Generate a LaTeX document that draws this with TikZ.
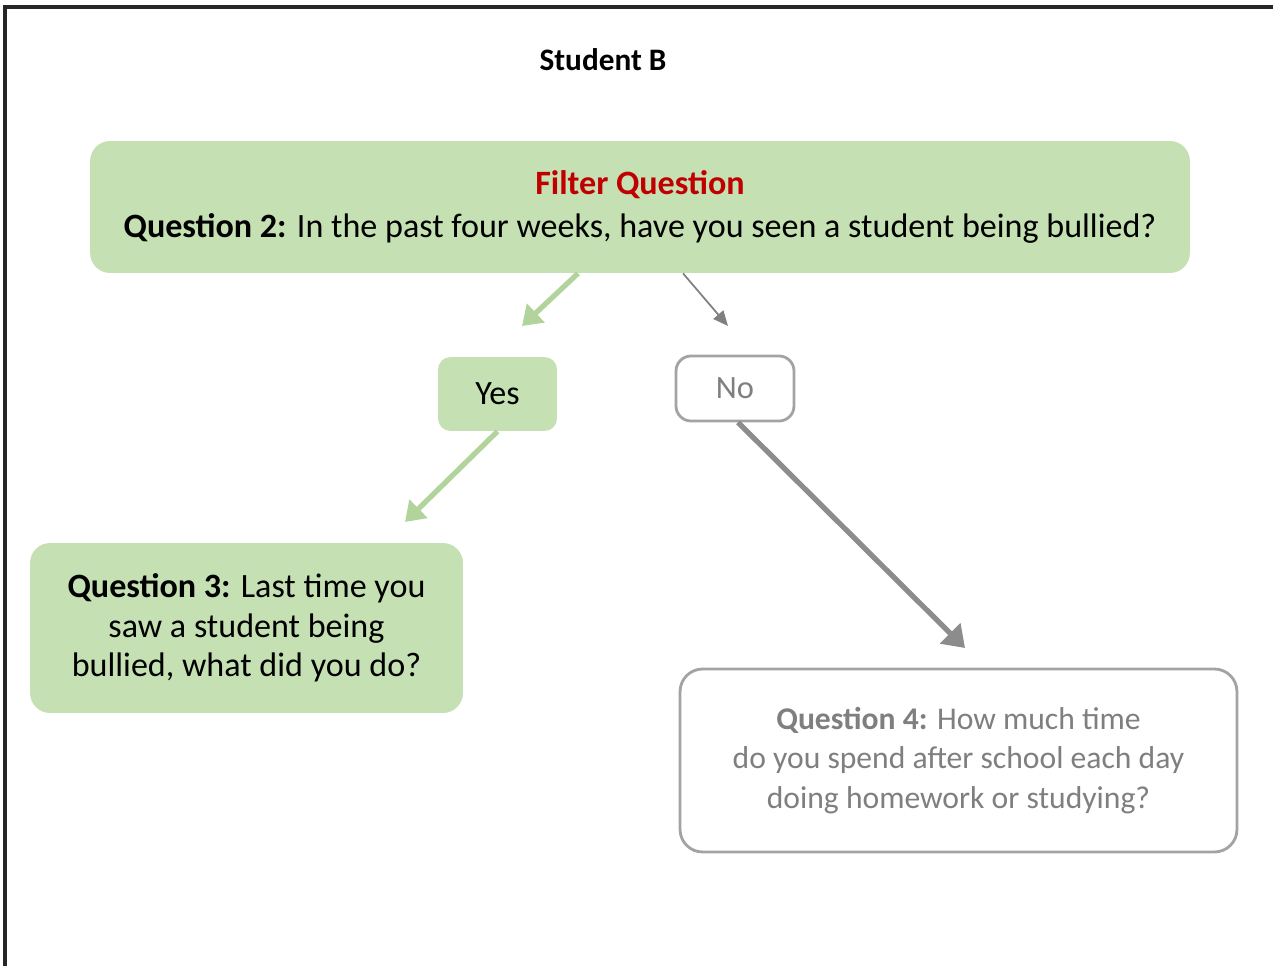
\documentclass[tikz,border=0pt]{standalone}
\usepackage{fontspec}
\setmainfont{Carlito}
\usetikzlibrary{arrows.meta}
\usetikzlibrary{positioning}
\definecolor{mgreen}{HTML}{C5E0B3}
\definecolor{marrow}{HTML}{B2D49C}
\definecolor{mred}{HTML}{C00000}
\definecolor{mgray}{HTML}{A3A3A3}
\definecolor{mtext}{HTML}{7F7F7F}

\begin{document}
\begin{tikzpicture}[x=0.02cm,y=-0.02cm,
		every node/.style={font=\fontsize{19.4}{22.6}\selectfont,align=center},
		greenbox/.style={fill=mgreen,rounded corners=0.4cm,inner sep=0pt},
		graybox/.style={draw=mgray,line width=1.6pt,fill=white,rounded corners=0.3cm,
			inner sep=0pt,text=mtext,font=\fontsize{18}{22.6}\selectfont},
		yesarrow/.style={draw=marrow,line width=3pt,-{Triangle[length=0.38cm,width=0.5cm]}},
		noarrow/.style={draw=gray,line width=1pt,-{Triangle[length=0.3cm,width=0.26cm]}},
		bigarrow/.style={draw=gray!90,line width=3pt,-{Triangle[length=0.42cm,width=0.56cm]}}
	]
	\useasboundingbox (0,0) rectangle (1273,966);

	% the frame
	\draw[line width=2.2pt,black!85] (5,966) -- (5,7) -- (1273,7);

	% the title
	\node[font=\fontsize{17.8}{20}\selectfont\bfseries] (title) at (603,60) {Student B};

	% the boxes
	\node[greenbox,minimum width=22cm,minimum height=2.64cm] (filter) at (640,207)
		{{\color{mred}\bfseries Filter Question}\\[2pt]
		\textbf{Question 2:} In the past four weeks, have you seen a student being bullied?};
	\node[greenbox,minimum width=2.38cm,minimum height=1.48cm,rounded corners=0.25cm] (yes) at (497.5,394) {Yes};
	\node[graybox,minimum width=2.36cm,minimum height=1.3cm,font=\fontsize{18.5}{22}\selectfont] (no) at (735,388.5) {No};
	\node[greenbox,minimum width=8.66cm,minimum height=3.4cm] (q3) at (246.5,628)
		{\textbf{Question 3:} Last time you\\saw a student being\\bullied, what did you do?};
	\node[graybox,minimum width=11.14cm,minimum height=3.66cm,rounded corners=0.45cm] (q4) at (958.5,760.5)
		{\textbf{Question 4:} How much time\\do you spend after school each day\\doing homework or studying?};

	% the arrow ends
	\coordinate (yestip) at (522,326);
	\coordinate (notip) at (728,326);
	\coordinate (q3tip) at (405,522);
	\coordinate (q4tip) at (965,648);

	% the arrows
	\draw[yesarrow] ([xshift=-1.24cm]filter.south) -- (yestip);
	\draw[noarrow] ([xshift=0.86cm]filter.south) -- (notip);
	\draw[yesarrow] (yes.south) -- (q3tip);
	\draw[bigarrow] ([xshift=0.06cm]no.south) -- (q4tip);
\end{tikzpicture}
\end{document}
